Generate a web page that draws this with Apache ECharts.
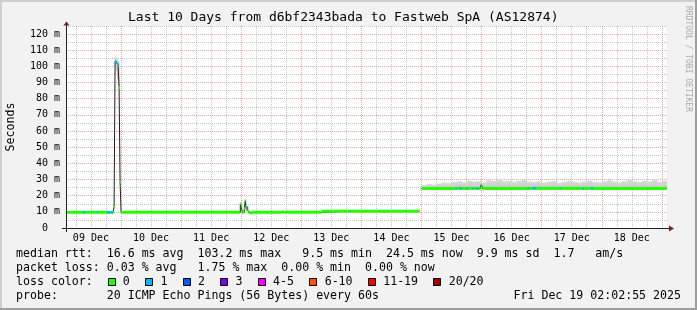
<!DOCTYPE html>
<html><head><meta charset="utf-8">
<script src="https://cdn.jsdelivr.net/npm/echarts@6/dist/echarts.min.js"></script>
<style>html,body{margin:0;padding:0;background:#f2f2f2}#c{width:697px;height:310px}</style>
</head><body><div id="c"></div>
<script>
// x values are hours since 09 Dec 00:00; window = Dec 9 02:02:55 .. Dec 19 02:02:55
const X_MIN = 2.0486;
const X_MAX = 242.0486;
const Y_MAX = 125;

const dayLabels = ['09 Dec','10 Dec','11 Dec','12 Dec','13 Dec','14 Dec','15 Dec','16 Dec','17 Dec','18 Dec'];
const dayLabelHours = [12,36,60,84,108,132,156,180,204,228];
// vertical grid every 6 hours (midnights are major lines)
const gridHours = [6,12,18,24,30,36,42,48,54,60,66,72,78,84,90,96,102,108,114,120,126,132,138,144,
  150,156,162,168,174,180,186,192,198,204,210,216,222,228,234,240];

// median rtt (ms): interval start hour, value, loss level index
const medT = [2.0486,8.85,9.65,14.45,14.85,18.45,19.65,20.05,20.85,21.25,21.65,22.05,22.45,22.85,23.25,23.65,24.05,
  71.65,72.05,72.45,73.25,73.65,74.05,74.45,74.85,75.25,76.85,77.25,88.45,88.85,90.05,90.45,
  104.05,115.65,116.05,143.25,144.05,157.65,158.05,159.25,160.05,162.05,162.45,164.45,164.85,165.65,166.05,166.45,166.85,
  167.65,168.05,168.45,186.45,186.85,188.45,189.65,199.25,199.65,208.45,208.85,211.65,212.45];
const medV = [9.7,9.7,9.7,9.7,9.7,9.7,9.7,9.7,9.8,13.0,103.2,102.4,101.6,100.8,87.0,28.5,9.7,
  15.0,13.5,9.7,12.0,17.0,11.5,12.8,9.7,9.5,10.3,9.7,10.4,9.7,10.4,9.7,
  10.4,10.4,10.4,null,24.5,24.5,24.5,24.5,24.5,24.5,24.5,24.5,24.5,24.5,24.5,24.5,24.5,
  26.5,25.8,24.5,24.5,24.5,24.5,24.5,24.5,24.5,24.5,24.5,24.5,24.5];
const medLoss = [0,1,0,1,0,1,0,1,0,0,1,1,1,1,0,0,0,
  0,0,0,0,0,0,1,0,0,0,0,0,0,0,0,
  0,1,0,0,0,1,0,1,0,1,0,1,0,1,0,1,0,
  0,0,0,1,0,1,0,1,0,1,0,1,0];

// smoke (ping spread) after 15 Dec
const smokeT = [144,146,148,150,152,154,156,158,160,162,164,166,168,170,172,174,176,178,180,182,184,186,188,190,
  192,194,196,198,200,202,204,206,208,210,212,214,216,218,220,222,224,226,228,230,232,234,236,238,240];
const smokeHi = [26.6,27.2,26.9,27.6,28.1,27.8,28.5,28.9,28.3,29.2,28.7,29.0,28.2,29.5,29.1,29.8,28.9,29.3,28.6,29.2,
  29.9,28.8,28.4,29.0,28.2,28.7,29.1,28.0,28.5,29.2,28.6,28.1,28.8,29.4,28.5,28.3,28.9,29.6,28.7,28.2,29.0,29.7,
  28.9,28.4,29.3,28.7,29.8,28.6,29.2];
const smokeFloor = 24.0;
// smoke around the 9 Dec spike
const spikeSmokeT = [21.65,22.05,22.45,22.85];
const spikeSmokeEnd = [22.05,22.45,22.85,23.25];
const spikeSmokeLo = [100.0,97.0,92.0,88.0];
const spikeSmokeHi = [106.0,105.5,104.5,103.0];

const lossLabels = ['0','1','2','3','4-5','6-10','11-19','20/20'];
const lossColors = ['#26ff00','#00b8ff','#0059ff','#7e00ff','#ff00ff','#ff5500','#ff0000','#a00000'];

const statRows = [
  'median rtt:  16.6 ms avg  103.2 ms max   9.5 ms min  24.5 ms now  9.9 ms sd  1.7   am/s',
  'packet loss: 0.03 % avg   1.75 % max  0.00 % min  0.00 % now',
  'loss color:',
  'probe:       20 ICMP Echo Pings (56 Bytes) every 60s'
];
const stampText = 'Fri Dec 19 02:02:55 2025';

const MONO = "'DejaVu Sans Mono', monospace";
const GRID_GREY = 'rgba(143,143,143,0.5)';
const GRID_RED = 'rgba(222,79,79,0.5)';

// ---- build data for the series ----
const intervals = medT.map((t, i) => [t, i + 1 < medT.length ? medT[i + 1] : X_MAX, medV[i], medLoss[i]]);
const bandData = intervals.filter(d => d[2] != null);
const lineData = [];
intervals.forEach(d => {
  if (d[2] == null) lineData.push([d[0], null]);
  else { lineData.push([d[0], d[2]]); lineData.push([d[1], d[2]]); }
});
const smokeData = smokeT.map((t, i) => [t, i + 1 < smokeT.length ? smokeT[i + 1] : X_MAX, smokeFloor, smokeHi[i]]);
spikeSmokeT.forEach((t, i) => smokeData.push([t, spikeSmokeEnd[i], spikeSmokeLo[i], spikeSmokeHi[i]]));

const smokeFill = new echarts.graphic.LinearGradient(0, 0, 0, 1, [
  { offset: 0, color: '#dadada' }, { offset: 1, color: '#c4c4c4' }]);

const chart = echarts.init(document.getElementById('c'), null, { renderer: 'canvas' });
chart.setOption({
  animation: false,
  backgroundColor: '#f2f2f2',
  title: {
    text: 'Last 10 Days from d6bf2343bada to Fastweb SpA (AS12874)',
    left: 128, top: 11, padding: 0,
    textStyle: { fontFamily: MONO, fontSize: 13, fontWeight: 'normal', color: '#000' }
  },
  grid: { left: 66, right: 30, top: 26, bottom: 82, show: true, backgroundColor: '#ffffff', borderWidth: 0, containLabel: false },
  xAxis: {
    type: 'value', min: X_MIN, max: X_MAX,
    axisLine: { show: false },
    axisTick: { show: false, customValues: gridHours },
    splitLine: { show: true, showMinLine: true, showMaxLine: true,
      lineStyle: { color: [GRID_GREY, GRID_GREY, GRID_GREY, GRID_RED], type: [1, 1], width: 1 } },
    axisLabel: {
      customValues: dayLabelHours,
      formatter: v => { const i = dayLabelHours.indexOf(Math.round(v)); return i >= 0 ? dayLabels[i] : ''; },
      fontFamily: MONO, fontSize: 10, color: '#000', margin: 5
    }
  },
  yAxis: {
    type: 'value', min: 0, max: Y_MAX, interval: 5,
    axisLine: { show: false }, axisTick: { show: false },
    axisLabel: {
      formatter: v => (v % 10 === 0 ? (v === 0 ? '0  ' : v + ' m') : ''),
      fontFamily: MONO, fontSize: 10, color: '#000', margin: 6
    },
    splitLine: { show: true, showMinLine: true, showMaxLine: true, lineStyle: { color: [GRID_RED, GRID_GREY], type: [1, 1], width: 1 } }
  },
  series: [
    {
      type: 'custom', z: 2, silent: true, clip: true, data: smokeData,
      encode: { x: [0, 1], y: [2, 3] },
      renderItem: (params, api) => {
        const p0 = api.coord([api.value(0), api.value(3)]);
        const p1 = api.coord([api.value(1), api.value(2)]);
        return { type: 'rect', shape: { x: p0[0], y: p0[1], width: p1[0] - p0[0] + 0.6, height: p1[1] - p0[1] }, style: { fill: smokeFill } };
      }
    },
    {
      type: 'line', z: 3, silent: true, data: lineData, symbol: 'none', connectNulls: false,
      lineStyle: { color: '#202020', width: 1 }
    },
    {
      type: 'custom', z: 4, silent: true, clip: true, data: bandData,
      encode: { x: [0, 1], y: 2 },
      renderItem: (params, api) => {
        const p0 = api.coord([api.value(0), api.value(2)]);
        const p1 = api.coord([api.value(1), api.value(2)]);
        return { type: 'rect', shape: { x: p0[0], y: p0[1] - 1.5, width: Math.max(p1[0] - p0[0], 1), height: 3 }, style: { fill: lossColors[api.value(3)] } };
      }
    }
  ]
});

// ---- decorations: frame, axes with arrows, texts ----
const o = chart.convertToPixel({ gridIndex: 0 }, [X_MIN, 0]);
const e = chart.convertToPixel({ gridIndex: 0 }, [X_MAX, Y_MAX]);
const ax = Math.round(o[0]) + 0.5, ay = Math.round(o[1]) + 0.5;
const ex = e[0], ty = e[1];
const AXIS = '#1f1f1f', ARROW = '#801f1f';
const g = [
  { type: 'rect', shape: { x: 0, y: 0, width: 697, height: 2 }, style: { fill: '#cfcfcf' } },
  { type: 'rect', shape: { x: 0, y: 0, width: 2, height: 310 }, style: { fill: '#cfcfcf' } },
  { type: 'rect', shape: { x: 0, y: 308, width: 697, height: 2 }, style: { fill: '#9e9e9e' } },
  { type: 'rect', shape: { x: 695, y: 0, width: 2, height: 310 }, style: { fill: '#9e9e9e' } },
  { type: 'line', shape: { x1: ax - 4.5, y1: ay, x2: ex + 3, y2: ay }, style: { stroke: AXIS, lineWidth: 1 }, z: 50 },
  { type: 'line', shape: { x1: ax, y1: ay + 3.5, x2: ax, y2: ty - 1 }, style: { stroke: AXIS, lineWidth: 1 }, z: 50 },
  { type: 'polygon', shape: { points: [[ex + 2, ay - 3], [ex + 2, ay + 3], [ex + 7, ay]] }, style: { fill: ARROW }, z: 50 },
  { type: 'polygon', shape: { points: [[ax - 3, ty - 0.5], [ax + 3, ty - 0.5], [ax, ty - 4.5]] }, style: { fill: ARROW }, z: 50 },
  { type: 'text', x: 11, y: 127, rotation: Math.PI / 2,
    style: { text: 'Seconds', fontFamily: MONO, fontSize: 11.6, fill: '#000', align: 'center', verticalAlign: 'middle' } },
  { type: 'text', x: 688, y: 59, rotation: -Math.PI / 2,
    style: { text: 'RRDTOOL / TOBI OETIKER', fontFamily: MONO, fontSize: 8, fill: '#a9a9a9', align: 'center', verticalAlign: 'middle' } },
  { type: 'text', x: 681, y: 296,
    style: { text: stampText, fontFamily: MONO, fontSize: 11.6, fill: '#000', align: 'right', verticalAlign: 'middle' } }
];
const rowY = [254, 268, 282, 296];
statRows.forEach((t, i) => g.push({ type: 'text', x: 16, y: rowY[i],
  style: { text: t, fontFamily: MONO, fontSize: 11.6, fill: '#000', align: 'left', verticalAlign: 'middle' } }));
const CW = 6.98;
let lx = 107.5;
lossLabels.forEach((lab, i) => {
  g.push({ type: 'rect', shape: { x: Math.round(lx) + 0.5, y: 278.5, width: 7, height: 7 }, style: { fill: lossColors[i], stroke: '#000', lineWidth: 1 } });
  g.push({ type: 'text', x: lx + 15.3, y: 282, style: { text: lab, fontFamily: MONO, fontSize: 11.6, fill: '#000', align: 'left', verticalAlign: 'middle' } });
  lx += 15.3 + lab.length * CW + 15.3;
});
chart.setOption({ graphic: { elements: g } });
</script>
</body></html>
